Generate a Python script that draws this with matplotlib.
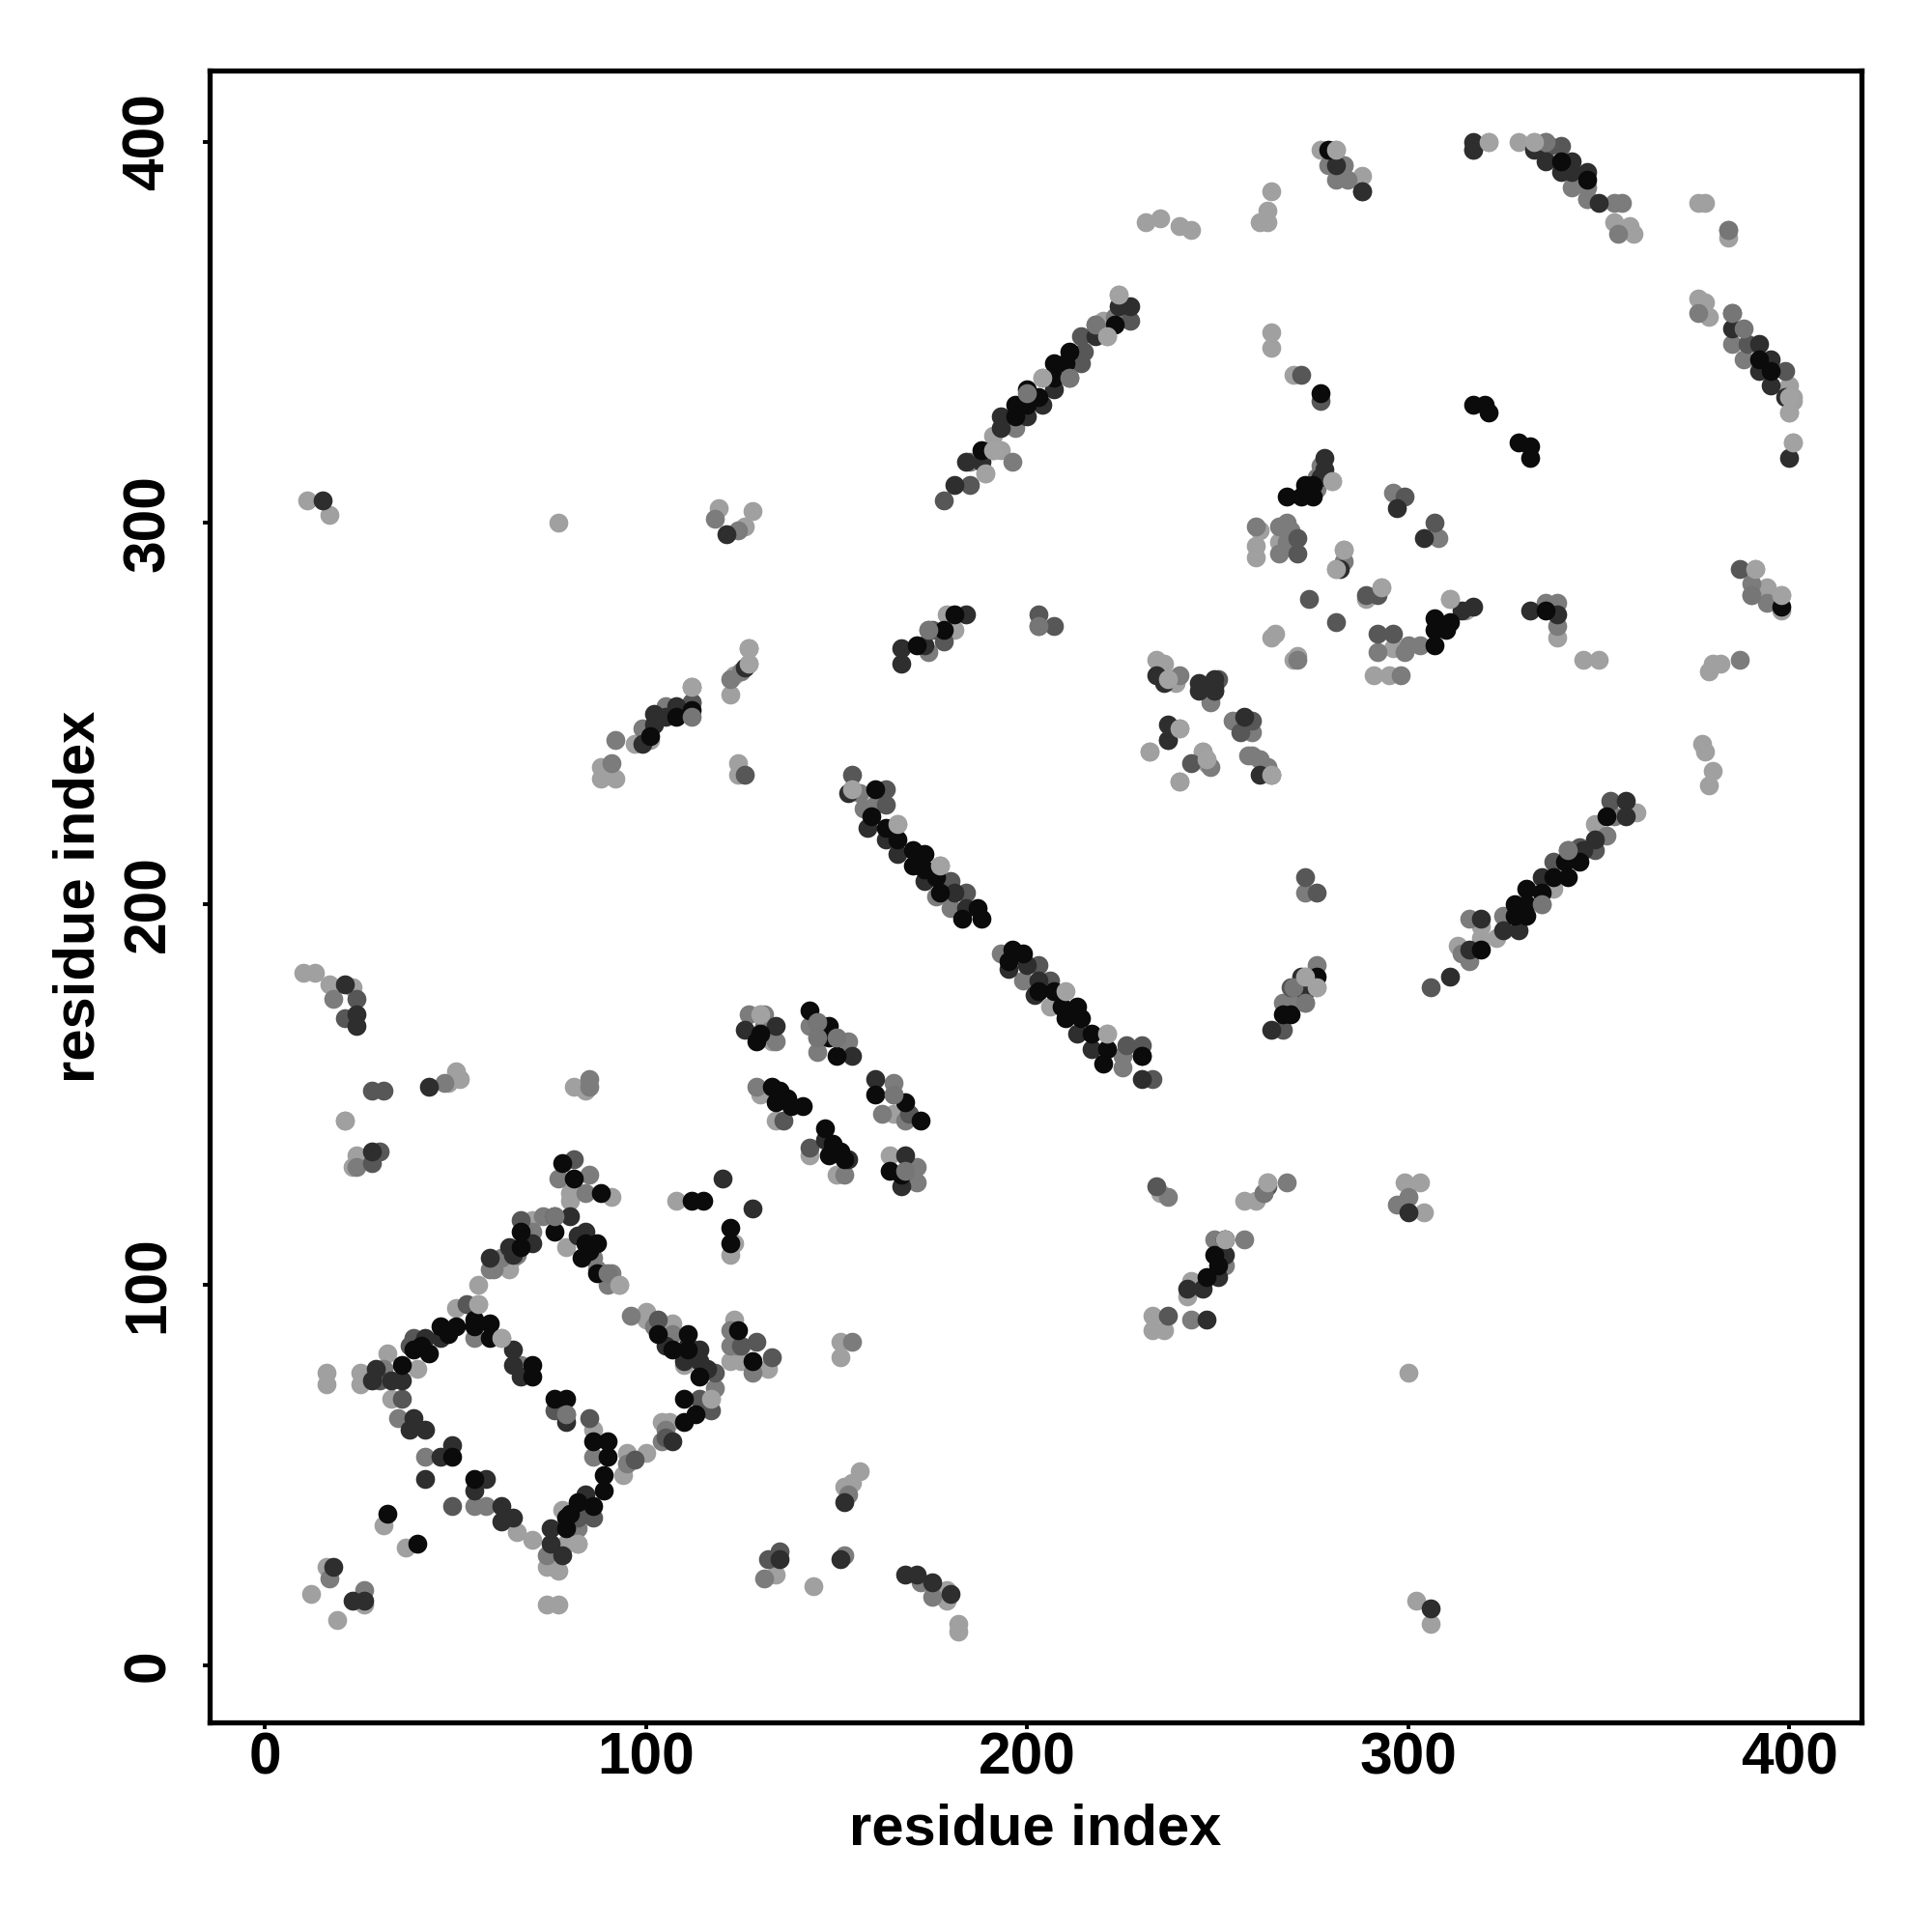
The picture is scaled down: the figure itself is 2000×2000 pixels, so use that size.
import matplotlib
matplotlib.use("Agg")
import matplotlib.pyplot as plt

plt.rcParams['font.family'] = ['Liberation Sans', 'DejaVu Sans']

tick_values = [0, 100, 200, 300, 400]
axis_label = "residue index"

# (residue i, residue j) contacts, grouped by shade of grey
light = [(16,74),(16,77),(25,77),(25,74),(32,82),(40,78),(50,94),(56,95),(62,86),(33,70),(86,62),
 (95,56),(94,50),(78,41),(82,32),(79,32),(77,25),(74,26),(74,16),(77,16),(70,33),(66,35),(80,124),(80,122),(70,117),(65,107),
 (64,104),(56,100),(79,110),(93,100),(91,123),(100,93),(100,91),(107,90),(110,79),(117,70),(106,64),(104,64),(100,56),
 (123,91),(122,80),(125,80),(132,78),(21,143),(24,134),(23,131),(108,122),(123,111),(122,108),(31,37),(37,31),(16,26),(12,19),
 (26,16),(19,12),(134,24),(144,21),(232,240),(240,232),(246,240),(247,237),(235,124),(154,230),(166,221),(221,166),(206,173),(130,150),(134,143),(143,134),
 (150,129),(165,145),(164,134),(130,171),(133,164),(131,168),(191,323),(191,319),(193,319),(189,313),(204,338),(221,349),(220,353),
 (224,360),(264,350),(270,339),(261,298),(401,332),(400,329),(401,321),(401,333),(400,336),(376,359),(378,358),(379,354),(359,376),(358,378),(354,379),
 (280,311),(260,294),(260,291),(266,295),(283,293),(281,288),(293,283),(289,280),(265,271),(264,270),(271,265),(270,264),(311,280),(315,277),
 (296,267),(291,260),(295,260),(339,270),(350,264),(346,264),(391,288),(394,283),(398,281),(398,277),(380,263),(382,263),(379,261),
 (377,242),(378,240),(380,235),(379,231),(263,236),(264,234),(261,238),(247,238),(319,191),(319,194),(323,191),(313,189),(338,204),(335,200),(349,221),
 (360,224),(234,264),(236,263),(237,259),(239,258),(240,246),(232,240),(240,232),(246,240),(11,306),(17,302),(77,300),(119,304),(128,303),(126,299),(88,236),(88,233),(92,233),
 (97,242),(101,243),(122,255),(123,260),(127,263),(124,237),(124,234),(181,272),(179,276),(231,379),(235,380),(240,378),(243,377),(264,387),(263,382),
 (261,379),(263,379),(277,398),(281,398),(281,393),(283,394),(288,391),(321,400),(329,400),(333,400),(299,127),(303,127),(304,119),(300,77),(302,17),(306,11),
 (257,122),(260,122),(263,127),(233,92),(233,88),(236,88),(243,101),(242,97),(151,81),(151,85),(152,47),(154,48),(156,51),(179,20),(179,17),(182,11),(182,9),(10,182),(13,182),
 (17,179),(23,178),(21,143),(50,156),(51,154),(48,153),(81,152),(84,151),(276,178),(273,181),(252,112),(264,346),(376,384),(378,384),(384,375)]

mid = [(35,65),(55,86),(67,79),(79,66),(86,55),(95,53),(90,100),(91,103),(82,36),(74,29),(42,55),(55,42),(58,42),(73,118),(70,114),(62,107),(59,104),(77,128),
 (85,129),(84,124),(107,87),(86,107),(118,73),(105,62),(104,59),(122,88),(122,84),(128,77),(24,131),(17,23),(26,20),(131,23),(193,187),(157,225),(160,226),(156,229),(199,180),(225,157),(225,160),
 (177,210),(176,202),(180,199),(127,171),(131,171),(131,168),(134,164),(129,152),(143,168),(145,165),(150,165),(153,164),(145,161),(165,153),(165,150),(162,145),(168,143),(171,127),(171,131),(168,130),
 (152,129),(237,123),(277,315),(268,295),(268,300),(266,299),(260,299),(266,292),(283,290),(296,308),(308,296),(303,268),(300,268),(299,266),(292,266),(298,260),(336,279),(339,279),(339,273),(387,264),
 (390,284),(390,281),(394,279),(254,248),(259,245),(258,239),(248,253),(248,236),(185,316),(218,352),(196,316),(197,325),(223,354),(356,384),(355,376),(347,385),(354,384),(376,355),(384,377),(385,347),(388,343),
 (352,218),(354,223),(316,196),(325,197),(314,187),(316,185),(298,121),(297,121),(300,123),(262,124),(268,127),(243,91),(249,112),(257,112),(252,105),(154,85),(153,45),(172,22),(175,18),
 (18,175),(47,153),(85,154),(85,152),(105,252),(112,257),(112,253),(122,259),(125,261),(127,267),(118,301),(124,298),(203,273),(174,266),(174,272),(283,394),(284,390),(334,399),(336,400),(317,398),(91,237),(92,243),(99,246),
 (238,246),(237,243),(240,260),(247,256),(248,254),(259,239),(261,238),(263,236),(264,234),(271,264),(276,184),(273,203),(273,174),(270,174),(267,174),(152,29),(343,388),(347,388),(347,385),(281,390),(279,394),
 (269,298),(276,312),(276,309),(31,78),(60,104),(96,92),(102,89),(124,84),(66,108),(87,104)]

mid_dark = [(36,70),(39,86),(53,95),(97,54),(49,42),(67,117),(76,67),(85,65),(86,39),(82,39),(81,133),(103,91),(114,70),(117,67),(118,77),(129,85),(133,81),(125,84),(30,135),(28,132),
 (135,30),(132,28),(154,234),(163,230),(163,226),(180,206),(184,203),(203,184),(206,180),(226,163),(230,163),(233,154),(145,169),(169,145),(143,136),(136,143),(185,310),(178,306),(211,338),(214,342),
 (215,345),(214,349),(227,353),(272,339),(299,307),(307,300),(271,296),(271,292),(274,280),(281,274),(296,271),(292,271),(292,281),(289,281),(387,288),(399,340),(385,355),(389,347),
 (306,178),(338,211),(342,214),(345,215),(349,214),(353,227),(259,248),(256,245),(277,332),(250,259),(249,256),(234,126),(237,92),(243,237),(273,207),(276,203),(269,178),(267,167),(28,151),(31,151),(21,170),(24,175),
 (112,253),(175,272),(178,269),(203,276),(207,273),(126,234),(288,387),(337,399),(340,399),(263,126),(30,75),(38,84),(105,60),(85,42)]

dark = [(29,78),(28,75),(33,75),(36,75),(42,86),(46,86),(65,83),(65,79),(67,76),(42,49),(42,62),(38,62),(39,65),(49,58),(46,55),(55,46),(58,49),(62,42),(65,39),(62,38),
 (75,36),(75,32),(78,29),(79,64),(76,118),(80,118),(84,114),(59,107),(64,110),(110,80),(114,83),(114,80),(111,84),(107,59),(28,135),(18,26),(26,17),(23,17),(120,128),(128,120),(135,28),
 (153,229),(158,220),(163,217),(166,213),(173,206),(181,203),(184,199),(195,183),(200,184),(203,180),(202,176),(213,166),(217,162),(230,160),(230,154),(126,167),(134,168),(160,154),(154,160),
 (153,133),(147,138),(168,134),(167,126),(181,310),(184,316),(188,316),(193,328),(193,325),(200,328),(204,331),(207,335),(218,349),(224,357),(227,357),(347,392),(350,384),(385,351),(392,347),
 (395,343),(392,340),(395,336),(399,333),(400,317),(278,317),(297,304),(304,296),(282,288),(314,277),(317,278),(332,277),(339,276),(257,249),(249,256),(311,181),(316,188),(319,196),(325,193),
 (329,193),(335,207),(346,214),(349,217),(357,223),(357,227),(15,306),(121,297),(99,242),(102,247),(102,250),(105,249),(108,252),(126,262),(167,267),(167,263),(173,268),(184,276),(234,260),(236,258),(245,258),(245,256),(249,259),(249,257),
 (237,247),(237,243),(261,234),(272,181),(273,177),(264,167),(317,400),(317,398),(333,398),(336,395),(343,395),(340,392),(343,392),(288,387),(300,119),(306,15),(247,91),(252,108),(250,102),(246,99),(242,99),(152,43),(151,28),(168,24),(171,24),(175,22),(180,19),(21,179),(24,171),(24,168),(43,152),(281,394),
 (278,314),(277,312),(105,84),(113,81),(116,78),(84,45),(82,113),(70,111),(65,108)]

black = [(36,79),(39,83),(43,82),(46,89),(50,89),(55,91),(55,89),(59,90),(59,86),(70,79),(70,76),(76,70),(79,70),(86,59),(90,59),(90,55),(89,50),(89,46),(86,42),(82,43),(79,39),
 (79,36),(55,49),(49,55),(67,114),(67,110),(76,114),(84,111),(87,111),(83,107),(87,103),(78,132),(81,128),(88,124),(103,87),(111,87),(107,83),(111,83),(114,76),(110,70),(113,66),(110,64),(124,88),(128,80),
 (112,122),(115,122),(122,115),(122,111),(32,40),(40,32),(160,230),(159,223),(163,220),(166,217),(170,214),(173,213),(170,210),(173,209),(176,207),(177,203),(187,199),(183,196),(188,196),
 (196,188),(199,187),(195,185),(203,177),(207,177),(209,173),(213,173),(210,170),(214,170),(217,166),(221,162),(220,158),(230,160),(129,164),(130,166),(143,172),(148,168),(148,165),(150,160),
 (133,152),(135,151),(134,148),(137,149),(138,147),(141,147),(160,150),(168,148),(172,143),(147,141),(149,137),(148,134),(151,135),(152,133),(164,130),(167,129),(188,319),(197,331),(197,328),(200,331),
 (200,335),(203,333),(207,338),(207,342),(210,342),(211,345),(223,352),(277,334),(317,331),(320,331),(321,329),(329,321),(332,320),(332,317),(273,310),(275,310),(272,307),(275,307),(268,307),
 (307,275),(311,274),(307,272),(310,272),(307,268),(336,277),(398,278),(392,343),(395,340),(328,197),(328,200),(331,197),(331,200),(331,204),(335,203),(338,207),(342,207),(341,211),(345,211),
 (352,223),(319,188),(276,181),(269,171),(267,171),(101,244),(108,249),(112,251),(171,268),(178,272),(181,276),(279,398),(340,395),(347,390),(249,108),(250,105),(247,102),(252,112),(41,84),(48,87),(85,109),(80,40)]

# grey contacts that sit on top of the darker ones
mid_top = [(76,118),(79,66),(90,103),(145,165),(150,165),(165,150),(145,169),(168,130),(200,334),(211,338),(218,352),
 (388,351),(385,355),(384,377),(390,281),(335,200),(342,214),(273,174),(270,178),(112,249),(203,273),(174,272),(336,400),(262,124)]
light_top = [(56,95),(62,86),(117,70),(93,100),(82,32),(166,221),(221,166),(177,210),(210,177),(130,171),(154,230),(191,319),(189,313),(204,338),(224,360),
 (221,349),(311,280),(283,293),(281,288),(293,283),(280,311),(400,333),(400,329),(401,321),(398,281),(391,288),(247,238),(237,259),(240,246),(264,234),(281,398),(321,400),(333,400),(276,178),(273,181),(252,112),(263,127),
 (112,257),(127,263),(127,267)]

groups = (light, mid, mid_dark, dark, black, mid_top, light_top)
shades = ['#a0a0a0', '#7c7c7c', '#575757', '#2e2e2e', '#0b0b0b', '#767676', '#a2a2a2']

fig = plt.figure(figsize=(10, 10), dpi=200)
ax = fig.add_axes([0.1084, 0.1084, 0.8552, 0.8552])
for z, (g, c) in enumerate(zip(groups, shades)):
    ax.scatter([p[0] for p in g], [p[1] for p in g], s=50, c=c, linewidths=0, zorder=2 + z)

ax.set_xlim(-14.6, 419)
ax.set_ylim(-14.9, 418.8)
ax.set_xticks(tick_values)
ax.set_yticks(tick_values)
ax.tick_params(axis='both', length=2.4, width=1.4, labelsize=21.8)
ax.tick_params(axis='x', pad=0.8)
ax.tick_params(axis='y', pad=9.8)
for lab in ax.get_xticklabels():
    lab.set_fontweight('bold')
for lab in ax.get_yticklabels():
    lab.set_fontweight('bold')
    lab.set_rotation(90)
    lab.set_va('center')
for s in ax.spines.values():
    s.set_linewidth(1.9)
ax.set_xlabel(axis_label, fontsize=21.5, fontweight='bold', va='center')
ax.set_ylabel(axis_label, fontsize=21.5, fontweight='bold', va='center')
ax.xaxis.set_label_coords(0.5, -0.0645)
ax.yaxis.set_label_coords(-0.079, 0.5)
fig.savefig("out.png", dpi=200)
